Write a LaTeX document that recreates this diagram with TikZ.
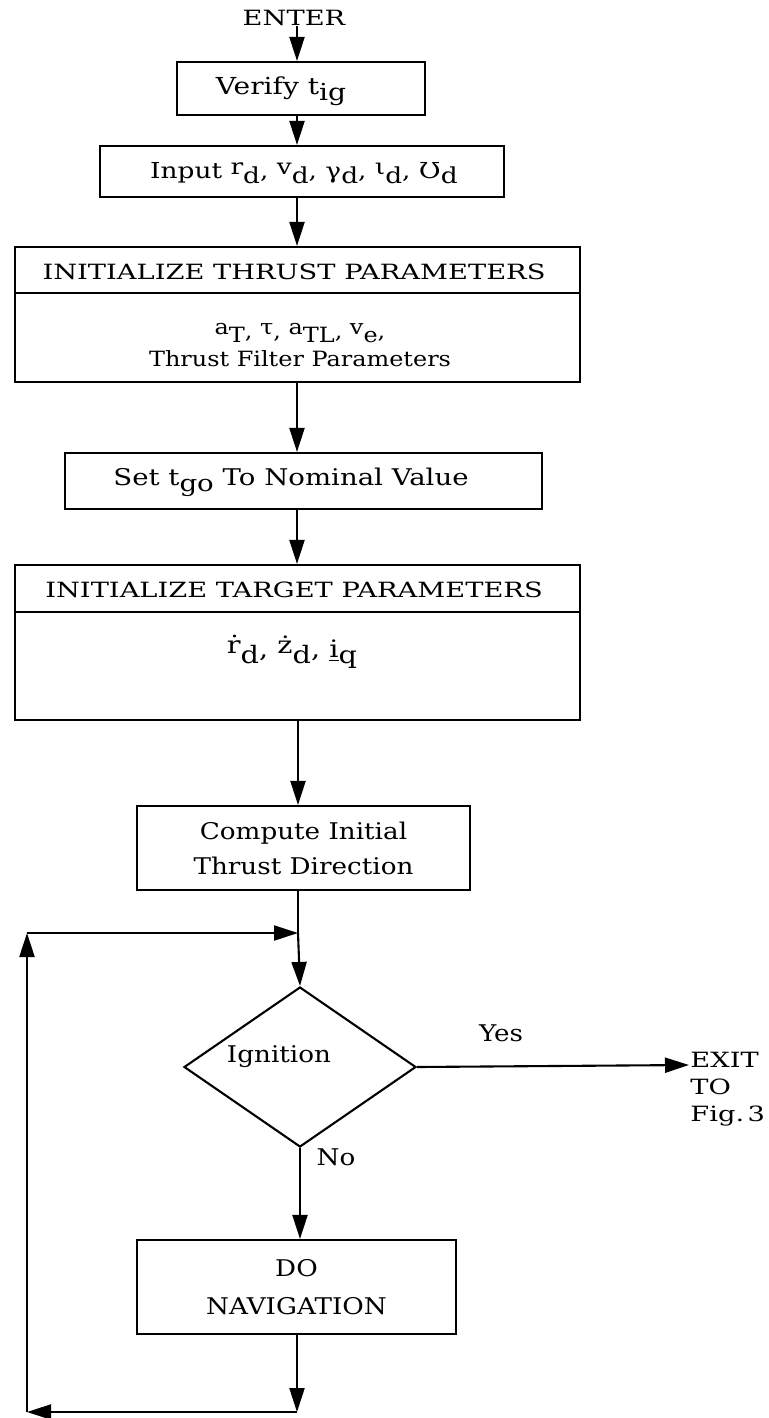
\documentclass[tikz,border=0pt]{standalone}
\usepackage{fontspec}
\setmainfont{DejaVu Serif}[FakeStretch=1.14]
\newfontfamily\capsfont{DejaVu Serif}[FakeStretch=1.3]
\newfontfamily\mixfont{DejaVu Serif}[FakeStretch=1.2]
\usetikzlibrary{arrows.meta,shapes.geometric}
\newcommand{\lowr}[1]{\raisebox{-0.5ex}{#1}}
\newcommand{\vv}[2]{\raisebox{0.3ex}{#1}\raisebox{-0.45ex}{#2}}
\begin{document}
\begin{tikzpicture}[x=0.5pt,y=-0.5pt,
  ln/.style={line width=1.05pt},
  arr/.style={ln,-{Triangle[length=12pt,width=7.5pt]}},
  box/.style={draw,ln,inner sep=0pt,align=center},
  txt/.style={inner sep=0pt,font=\fontsize{10.5}{14}\selectfont,align=center},
  mtxt/.style={inner sep=0pt,font=\mixfont\fontsize{11.5}{14}\selectfont,align=center},
  ctxt/.style={inner sep=0pt,font=\capsfont\fontsize{10.5}{14}\selectfont,align=center},
  ptxt/.style={inner sep=0pt,font=\fontsize{11.5}{17.5}\selectfont,align=center}]
\useasboundingbox (0,0) rectangle (768,1418);
\coordinate (sp) at (297,0);
% nodes
\node[ctxt] (enter) at (294,18) {ENTER};
\node[box,minimum width=124pt,minimum height=26.5pt] (ver) at (301,88.5) {};
\node[mtxt,font=\mixfont\fontsize{11.7}{14}\selectfont] (vert) at (281,91) {Verify t\lowr{ig}};
\node[box,minimum width=202pt,minimum height=25.5pt] (inp) at (302,171.5) {};
\node[mtxt,font=\mixfont\fontsize{11}{14}\selectfont] (inpt) at (304,173)
  {Input \vv{r}{d}, \vv{v}{d}, γ\lowr{d}, \vv{ι}{d}, Ʊ\lowr{d}};
\node[box,minimum width=282.5pt,minimum height=67.5pt] (thr) at (297.5,314.5) {};
\node[ctxt] (thrt) at (294,272) {INITIALIZE THRUST PARAMETERS};
\node[txt] (thrb) at (300,345)
  {\vv{a}{T}, \raisebox{0.3ex}{τ}, \vv{a}{TL}, \vv{v}{e},\\Thrust Filter Parameters};
\node[box,minimum width=238.5pt,minimum height=28pt] (set) at (303.5,481) {};
\node[mtxt] (sett) at (291,482) {Set t\lowr{go} To Nominal Value};
\node[box,minimum width=282.5pt,minimum height=77.5pt] (tar) at (297.5,642.5) {};
\node[ctxt] (tart) at (294,590) {INITIALIZE TARGET PARAMETERS};
\node[mtxt,font=\mixfont\fontsize{12}{14}\selectfont] (tarb) at (292,652) {\vv{ṙ}{d}, \vv{ż}{d}, \underline{i}\lowr{q}};
\node[box,minimum width=166.5pt,minimum height=42pt,font=\fontsize{11.5}{17.5}\selectfont] (comp) at (303.5,848)
  {Compute Initial\\Thrust Direction};
\node[draw,ln,diamond,minimum width=116pt,minimum height=80pt,inner sep=0pt] (dia) at (300,1067) {};
\node[ptxt] (ign) at (279,1057) {Ignition};
\node[ptxt] (yes) at (501,1033) {Yes};
\node[ptxt] (no) at (336,1157) {No};
\node[box,minimum width=159.5pt,minimum height=47pt,font=\fontsize{11.5}{19}\selectfont] (nav) at (296.5,1287)
  {DO\\NAVIGATION};
\node[ctxt,anchor=north west,align=left,font=\capsfont\fontsize{10.5}{13.5}\selectfont] (exit) at (690,1052) {EXIT\\TO\\Fig.\,3};
% coordinates
\coordinate (lp) at (298,933);
\coordinate (ll) at (27,933);
\coordinate (bl) at (27,1412);
\coordinate (br) at (297,1412);
\coordinate (ex) at (689,1065);
% connectors
\draw[arr] (enter.south -| sp) -- (ver.north -| sp);
\draw[arr] (ver.south -| sp) -- (inp.north -| sp);
\draw[arr] (inp.south -| sp) -- (thr.north -| sp);
\draw[ln] (thr.west |- 0,293) -- (thr.east |- 0,293);
\draw[arr] (thr.south -| sp) -- (set.north -| sp);
\draw[arr] (set.south -| sp) -- (tar.north -| sp);
\draw[ln] (tar.west |- 0,612) -- (tar.east |- 0,612);
\draw[arr] (tar.south -| lp) -- (comp.north -| lp);
\draw[ln] (comp.south -| lp) -- (lp);
\draw[arr] (lp) -- (dia.north);
\draw[arr] (ll) -- (lp);
\draw[arr] (dia.east) -- (ex);
\draw[arr] (dia.south) -- (nav.north -| dia.south);
\draw[arr] (nav.south -| br) -- (br);
\draw[arr] (br) -- (bl);
\draw[arr] (bl) -- (ll);
\end{tikzpicture}
\end{document}
